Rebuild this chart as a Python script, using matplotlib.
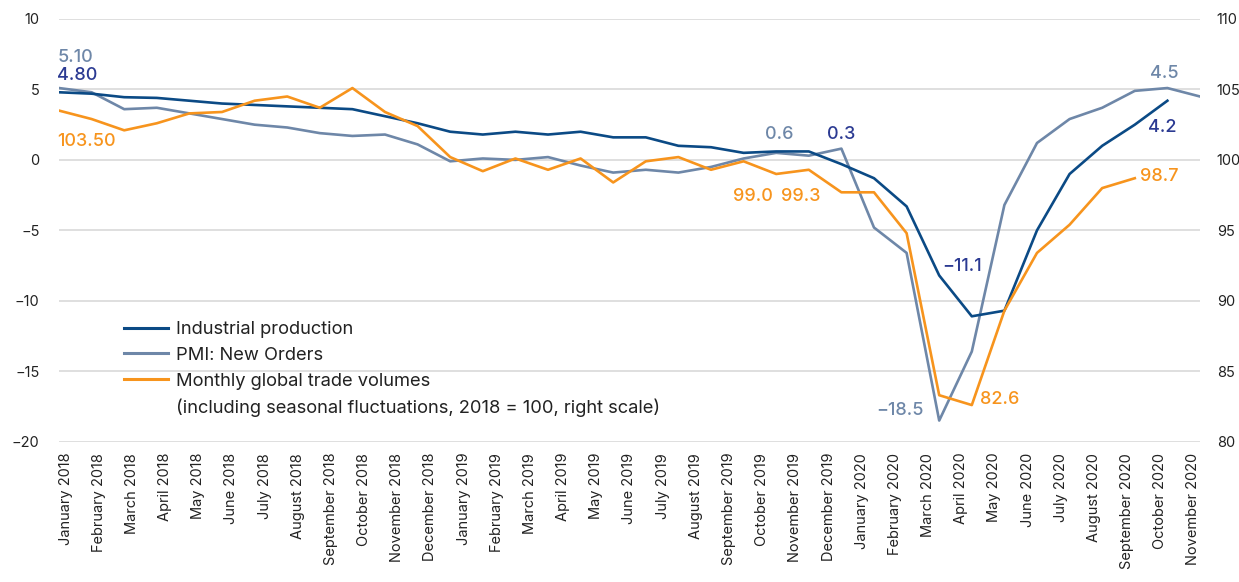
import numpy as np
import matplotlib
matplotlib.use('Agg')
import matplotlib.pyplot as plt
from matplotlib.lines import Line2D

plt.rcParams['font.family'] = ['Inter', 'DejaVu Sans']

# month labels on the x axis
months = ['January 2018', 'February 2018', 'March 2018', 'April 2018', 'May 2018', 'June 2018',
          'July 2018', 'August 2018', 'September 2018', 'October 2018', 'November 2018', 'December 2018',
          'January 2019', 'February 2019', 'March 2019', 'April 2019', 'May 2019', 'June 2019',
          'July 2019', 'August 2019', 'September 2019', 'October 2019', 'November 2019', 'December 2019',
          'January 2020', 'February 2020', 'March 2020', 'April 2020', 'May 2020', 'June 2020',
          'July 2020', 'August 2020', 'September 2020', 'October 2020', 'November 2020']

# left scale
industrial = [4.8, 4.7, 4.45, 4.4, 4.2, 4.0, 3.9, 3.8, 3.7, 3.6, 3.1, 2.6,
              2.0, 1.8, 2.0, 1.8, 2.0, 1.6, 1.6, 1.0, 0.9, 0.5, 0.6, 0.6,
              -0.3, -1.3, -3.3, -8.2, -11.1, -10.7, -5.0, -1.0, 1.0, 2.5, 4.2]
pmi_orders = [5.1, 4.8, 3.6, 3.7, 3.3, 2.9, 2.5, 2.3, 1.9, 1.7, 1.8, 1.1,
              -0.1, 0.1, 0.0, 0.2, -0.4, -0.9, -0.7, -0.9, -0.5, 0.1, 0.5, 0.3,
              0.8, -4.8, -6.6, -18.5, -13.6, -3.2, 1.2, 2.9, 3.7, 4.9, 5.1, 4.5]
# right scale (2018 = 100)
trade = [103.5, 102.9, 102.1, 102.6, 103.3, 103.4, 104.2, 104.5, 103.7, 105.1, 103.4, 102.4,
         100.2, 99.2, 100.1, 99.3, 100.1, 98.4, 99.9, 100.2, 99.3, 99.9, 99.0, 99.3,
         97.7, 97.7, 94.8, 83.3, 82.6, 89.3, 93.4, 95.4, 98.0, 98.7]

c_ip = '#0b4a85'
c_ip_txt = '#2b3a92'
c_pmi = '#6e87a8'
c_trade = '#f7941d'
c_grid = '#d9d9d9'

fig = plt.figure(figsize=(12.39, 5.82), dpi=100)
ax = fig.add_axes([59 / 1239, 1 - 441.7 / 582, 1141 / 1239, 422.7 / 582])
ax2 = ax.twinx()

ax.plot(range(len(pmi_orders)), pmi_orders, color=c_pmi, lw=1.9, zorder=2)
ax.plot(range(len(industrial)), industrial, color=c_ip, lw=1.9, zorder=3)
ax2.plot(range(len(trade)), trade, color=c_trade, lw=1.9, zorder=4)

ax.set_xlim(0, len(pmi_orders) - 1)
ax.set_ylim(-20, 10)
ax2.set_ylim(80, 110)
ax.set_yticks(np.arange(-20, 11, 5))
ax2.set_yticks(np.arange(80, 111, 5))
ax.set_yticklabels(['\u221220', '\u221215', '\u221210', '\u22125', '0', '5', '10'])
ax.grid(axis='y', color=c_grid, lw=1.2)
ax.set_axisbelow(True)

ax.set_xticks(np.linspace(0.2, len(pmi_orders) - 1.2, len(months)))
ax.set_xticklabels(months, rotation=90, fontsize=10.5, color='#222222')
for a in (ax, ax2):
    for s in a.spines.values():
        s.set_visible(False)
    a.tick_params(length=0, labelsize=10.5, labelcolor='#222222')
ax.tick_params(axis='y', pad=14)
ax.tick_params(axis='x', pad=8)
ax2.tick_params(axis='y', pad=12)

# value labels
fs = 13
fw = 500
ax.text(-0.05, 7.3, '5.10', color=c_pmi, fontsize=fs, fontweight=fw, ha='left', va='center')
ax.text(-0.05, 6.0, '4.80', color=c_ip_txt, fontsize=fs, fontweight=fw, ha='left', va='center')
ax2.text(-0.05, 101.3, '103.50', color=c_trade, fontsize=fs, fontweight=fw, ha='left', va='center')
ax.text(22.1, 1.8, '0.6', color=c_pmi, fontsize=fs, fontweight=fw, ha='center', va='center')
ax.text(24.0, 1.8, '0.3', color=c_ip_txt, fontsize=fs, fontweight=fw, ha='center', va='center')
ax2.text(21.3, 97.4, '99.0', color=c_trade, fontsize=fs, fontweight=fw, ha='center', va='center')
ax2.text(22.75, 97.4, '99.3', color=c_trade, fontsize=fs, fontweight=fw, ha='center', va='center')
ax.text(25.8, -17.8, '\u221218.5', color=c_pmi, fontsize=fs, fontweight=fw, ha='center', va='center')
ax.text(27.7, -7.6, '\u221211.1', color=c_ip_txt, fontsize=fs, fontweight=fw, ha='center', va='center')
ax2.text(28.85, 83.0, '82.6', color=c_trade, fontsize=fs, fontweight=fw, ha='center', va='center')
ax.text(33.9, 6.1, '4.5', color=c_pmi, fontsize=fs, fontweight=fw, ha='center', va='center')
ax.text(33.85, 2.3, '4.2', color=c_ip_txt, fontsize=fs, fontweight=fw, ha='center', va='center')
ax2.text(33.75, 98.8, '98.7', color=c_trade, fontsize=fs, fontweight=fw, ha='center', va='center')

handles = [Line2D([], [], color=c_ip, lw=2.2),
           Line2D([], [], color=c_pmi, lw=2.2),
           Line2D([], [], color=c_trade, lw=2.2),
           Line2D([], [], color='none', lw=0)]
labels = ['Industrial production', 'PMI: New Orders', 'Monthly global trade volumes',
          '(including seasonal fluctuations, 2018 = 100, right scale)']
leg = ax2.legend(handles, labels, loc='upper left', bbox_to_anchor=(124 / 1239, 1 - 321 / 582),
                 bbox_transform=fig.transFigure, frameon=False, fontsize=13.2,
                 handlelength=2.4, handletextpad=0.45, labelspacing=0.48, borderpad=0,
                 borderaxespad=0)
for t in leg.get_texts():
    t.set_color('#222222')

fig.savefig('out.png', dpi=100)
